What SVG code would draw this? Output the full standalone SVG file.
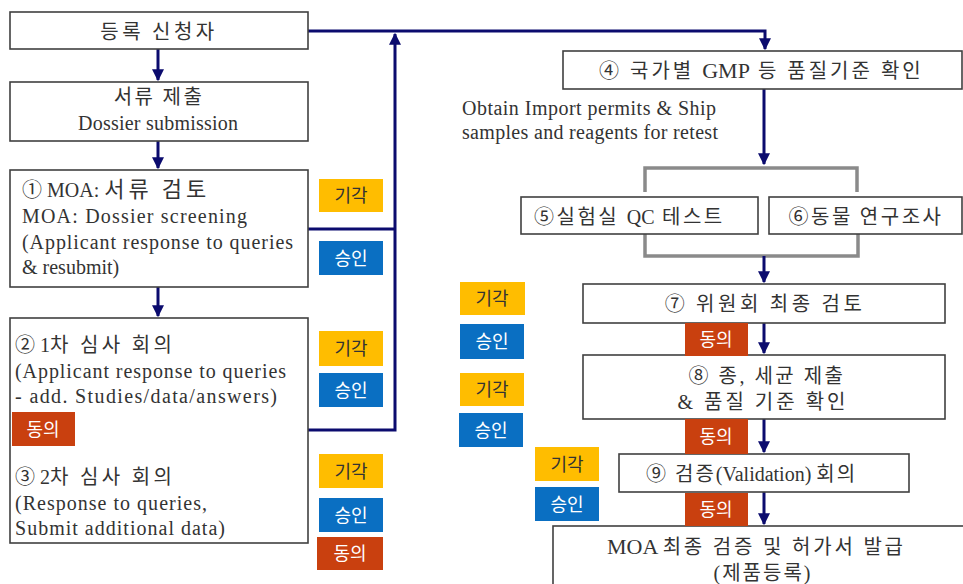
<svg xmlns="http://www.w3.org/2000/svg" width="963" height="584" viewBox="0 0 963 584">
<defs>
<marker id="ah" viewBox="0 0 10 10" refX="9" refY="5" markerWidth="4" markerHeight="4" orient="auto" markerUnits="strokeWidth">
<path d="M0,0 L10,5 L0,10 z" fill="#0b0b6e"/>
</marker>
<style>
.box{fill:#fff;stroke:#404040;stroke-width:1.6}
.ln{fill:none;stroke:#0b0b6e;stroke-width:3}
.gr{fill:none;stroke:#8a8a8a;stroke-width:3.5}
.t{font-family:"Liberation Serif","Noto Sans CJK KR",serif;fill:#333;font-size:20px}
.k{font-family:"Noto Sans CJK KR",sans-serif;fill:#333;font-size:20px}
.h{font-family:"Noto Sans CJK KR",sans-serif}
.bt{font-family:"Noto Sans CJK KR",sans-serif;font-size:18px;text-anchor:middle}
.y{fill:#ffbd00}
.b{fill:#0a6fc2}
.r{fill:#c9400f}
</style>
</defs>
<rect width="963" height="584" fill="#fff"/>

<g id="connectors">
<path class="ln" d="M308,31 H765 V49" marker-end="url(#ah)"/>
<path class="ln" d="M158,49 V80" marker-end="url(#ah)"/>
<path class="ln" d="M158,141 V168" marker-end="url(#ah)"/>
<path class="ln" d="M158,287 V316" marker-end="url(#ah)"/>
<path class="ln" d="M308,229 H395"/>
<path class="ln" d="M308,430 H395 V34" marker-end="url(#ah)"/>
<path class="ln" d="M764,89 V164" marker-end="url(#ah)"/>
<path class="gr" d="M645,192 V168 H857 V192"/>
<path class="gr" d="M645,234 V256 H858 V234"/>
<path class="ln" d="M764,256 V282" marker-end="url(#ah)"/>
<path class="ln" d="M764,323 V353" marker-end="url(#ah)"/>
<path class="ln" d="M764,419 V452" marker-end="url(#ah)"/>
<path class="ln" d="M764,492 V524" marker-end="url(#ah)"/>
</g>

<g id="n-applicant">
<rect class="box" x="10" y="12" width="298" height="37"/>
<text class="k" x="159" y="39" text-anchor="middle" font-size="22" letter-spacing="3.5">등록 신청자</text>
</g>

<g id="n-dossier">
<rect class="box" x="10" y="82" width="298" height="59"/>
<text class="k" x="159" y="104" text-anchor="middle" font-size="21" letter-spacing="2.5">서류 제출</text>
<text class="t" x="158" y="130" text-anchor="middle" textLength="160" lengthAdjust="spacing">Dossier submission</text>
</g>

<g id="n-screening">
<rect class="box" x="10" y="170" width="298" height="117"/>
<text class="t" x="22" y="197" font-size="21">① MOA: <tspan class="h" font-size="22" letter-spacing="4">서류 검토</tspan></text>
<text class="t" x="22" y="223" font-size="21" textLength="225" lengthAdjust="spacing">MOA: Dossier screening</text>
<text class="t" x="22" y="249" font-size="21" textLength="271" lengthAdjust="spacing">(Applicant response to queries</text>
<text class="t" x="22" y="274" font-size="21">&amp; resubmit)</text>
</g>

<g id="n-review">
<rect class="box" x="10" y="318" width="298" height="225"/>
<text class="t" x="15" y="352" font-size="21">② 1<tspan class="h" letter-spacing="3.5">차 심사 회의</tspan></text>
<text class="t" x="15" y="378" font-size="21" textLength="271" lengthAdjust="spacing">(Applicant response to queries</text>
<text class="t" x="15" y="403" font-size="21" textLength="262" lengthAdjust="spacing">- add. Studies/data/answers)</text>
<rect class="r" x="12" y="412" width="63" height="34"/>
<text class="bt" x="43" y="436" fill="#fff">동의</text>
<text class="t" x="15" y="484" font-size="21">③ 2<tspan class="h" letter-spacing="3.5">차 심사 회의</tspan></text>
<text class="t" x="15" y="510" font-size="21" textLength="192" lengthAdjust="spacing">(Response to queries,</text>
<text class="t" x="15" y="535" font-size="21" textLength="210" lengthAdjust="spacing">Submit additional data)</text>
</g>

<g id="badges-left">
<rect class="y" x="319" y="179" width="64" height="33"/>
<text class="bt" x="351" y="202" fill="#333">기각</text>
<rect class="b" x="319" y="241" width="64" height="34"/>
<text class="bt" x="351" y="265" fill="#fff">승인</text>
<rect class="y" x="319" y="331" width="64" height="35"/>
<text class="bt" x="351" y="355" fill="#333">기각</text>
<rect class="b" x="319" y="373" width="64" height="34"/>
<text class="bt" x="351" y="397" fill="#fff">승인</text>
<rect class="y" x="319" y="454" width="64" height="34"/>
<text class="bt" x="351" y="478" fill="#333">기각</text>
<rect class="b" x="319" y="498" width="64" height="34"/>
<text class="bt" x="351" y="522" fill="#fff">승인</text>
<rect class="r" x="317" y="537" width="66" height="33"/>
<text class="bt" x="350" y="560" fill="#fff">동의</text>
</g>

<g id="n-gmp">
<rect class="box" x="563" y="51" width="399" height="38"/>
<text class="t" x="599" y="78" font-size="21"><tspan letter-spacing="3">④ 국가별 </tspan><tspan font-size="22">GMP</tspan><tspan letter-spacing="3"> 등 품질기준 확인</tspan></text>
</g>

<text class="t" x="462" y="115" font-size="18" textLength="254" lengthAdjust="spacing">Obtain Import permits &amp; Ship</text>
<text class="t" x="462" y="139" font-size="18" textLength="256" lengthAdjust="spacing">samples and reagents for retest</text>

<g id="n-qc">
<rect class="box" x="521" y="197" width="237" height="37"/>
<text class="t" x="534" y="224" font-size="22"><tspan letter-spacing="2.5">⑤실험실 </tspan><tspan>QC</tspan><tspan letter-spacing="2.5"> 테스트</tspan></text>
</g>

<g id="n-animal">
<rect class="box" x="769" y="197" width="193" height="37"/>
<text class="k" x="866" y="224" text-anchor="middle" font-size="22" letter-spacing="2.5">⑥동물 연구조사</text>
</g>

<g id="n-committee">
<rect class="box" x="583" y="284" width="362" height="39"/>
<text class="k" x="765" y="311" text-anchor="middle" font-size="21" letter-spacing="3.5">⑦ 위원회 최종 검토</text>
</g>

<g id="n-strain">
<rect class="box" x="583" y="355" width="362" height="64"/>
<text class="t" x="767" y="383" text-anchor="middle" font-size="21" letter-spacing="2.5">⑧ 종, 세균 제출</text>
<text class="t" x="763" y="409" text-anchor="middle" font-size="21" letter-spacing="3">&amp; 품질 기준 확인</text>
</g>

<g id="n-validation">
<rect class="box" x="619" y="454" width="290" height="38"/>
<text class="t" x="646" y="481" font-size="22"><tspan letter-spacing="2">⑨ 검증</tspan><tspan>(Validation) </tspan><tspan letter-spacing="2">회의</tspan></text>
</g>

<g id="n-final">
<rect class="box" x="553" y="526" width="420" height="70"/>
<text class="t" x="607" y="554" font-size="21"><tspan font-size="22">MOA </tspan><tspan letter-spacing="2.8">최종 검증 및 허가서 발급</tspan></text>
<text class="t" x="763" y="580" text-anchor="middle" font-size="21" letter-spacing="2">(제품등록)</text>
</g>

<g id="badges-right">
<rect class="y" x="460" y="282" width="65" height="33"/>
<text class="bt" x="492" y="305" fill="#333">기각</text>
<rect class="b" x="460" y="324" width="64" height="35"/>
<text class="bt" x="492" y="348" fill="#fff">승인</text>
<rect class="y" x="460" y="373" width="64" height="33"/>
<text class="bt" x="492" y="396" fill="#333">기각</text>
<rect class="b" x="459" y="413" width="64" height="34"/>
<text class="bt" x="491" y="437" fill="#fff">승인</text>
<rect class="y" x="535" y="447" width="64" height="34"/>
<text class="bt" x="567" y="471" fill="#333">기각</text>
<rect class="b" x="535" y="487" width="64" height="34"/>
<text class="bt" x="567" y="511" fill="#fff">승인</text>
<rect class="r" x="685" y="323" width="63" height="33"/>
<text class="bt" x="716" y="346" fill="#fff">동의</text>
<rect class="r" x="685" y="419" width="63" height="35"/>
<text class="bt" x="716" y="443" fill="#fff">동의</text>
<rect class="r" x="685" y="493" width="63" height="33"/>
<text class="bt" x="716" y="516" fill="#fff">동의</text>
</g>
</svg>
